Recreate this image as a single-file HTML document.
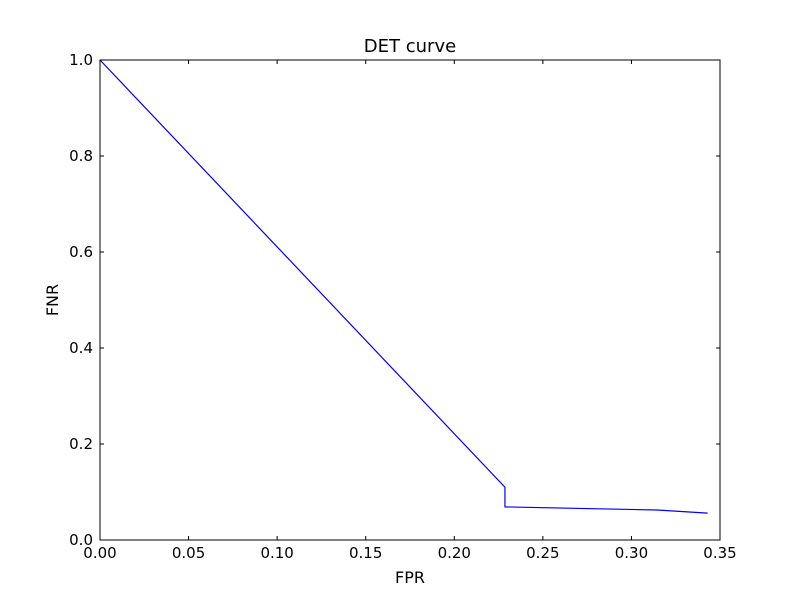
<!DOCTYPE html>
<html><head><meta charset="utf-8"><style>
body{margin:0;background:#fff;}
svg{display:block;font-family:"DejaVu Sans","Liberation Sans",sans-serif;}
</style></head><body>
<svg id="chart" width="800" height="600">
<rect width="800" height="600" fill="#fff"/>
<text x="410" y="52" font-size="18" text-anchor="middle">DET curve</text>
<text x="410" y="583" font-size="16" text-anchor="middle">FPR</text>
<text x="58" y="300" font-size="16" text-anchor="middle" transform="rotate(-90 58 300)">FNR</text>
<g id="ticks"></g>
<polyline id="curve" fill="none" stroke="#0000ff" stroke-width="1.2"/>
<rect x="100" y="60" width="620" height="480" fill="none" stroke="#000" stroke-width="1"/>
</svg>
<script>
const fprValues = [0, 0.2286, 0.2286, 0.3144, 0.343];
const fnrValues = [1.0, 0.110, 0.069, 0.0625, 0.056];
const xTicks = [0, 0.05, 0.10, 0.15, 0.20, 0.25, 0.30, 0.35];
const xTickLabels = ["0.00","0.05","0.10","0.15","0.20","0.25","0.30","0.35"];
const yTicks = [0, 0.2, 0.4, 0.6, 0.8, 1.0];
const yTickLabels = ["0.0","0.2","0.4","0.6","0.8","1.0"];

const X = v => 100 + v / 0.35 * 620;
const Y = v => 540 - v / 1.0 * 480;
const NS = "http://www.w3.org/2000/svg";
const g = document.getElementById('ticks');
function mk(tag, attrs){const e=document.createElementNS(NS,tag);for(const k in attrs)e.setAttribute(k,attrs[k]);return e;}
xTicks.forEach((t,i)=>{
  const x=X(t);
  const l1=mk('line',{x1:x,x2:x,y1:540,y2:536,stroke:'#000'});
  
  
  g.appendChild(l1);
  const l2=mk('line',{x1:x,x2:x,y1:60,y2:64,stroke:'#000'});
  
  
  g.appendChild(l2);
  const tx=mk('text',{x:x,y:558,'font-size':15,'text-anchor':'middle'});
  tx.textContent=xTickLabels[i];
  
  
  g.appendChild(tx);
});
yTicks.forEach((t,i)=>{
  const y=Y(t);
  const l1=mk('line',{x1:100,x2:104,y1:y,y2:y,stroke:'#000'});
  
  
  g.appendChild(l1);
  const l2=mk('line',{x1:716,x2:720,y1:y,y2:y,stroke:'#000'});
  
  
  g.appendChild(l2);
  const tx=mk('text',{x:93,y:y+5,'font-size':15,'text-anchor':'end'});
  tx.textContent=yTickLabels[i];
  
  
  g.appendChild(tx);
});
document.getElementById('curve').setAttribute('points', fprValues.map((v,i)=>X(v)+','+Y(fnrValues[i])).join(' '));
</script>
</body></html>
